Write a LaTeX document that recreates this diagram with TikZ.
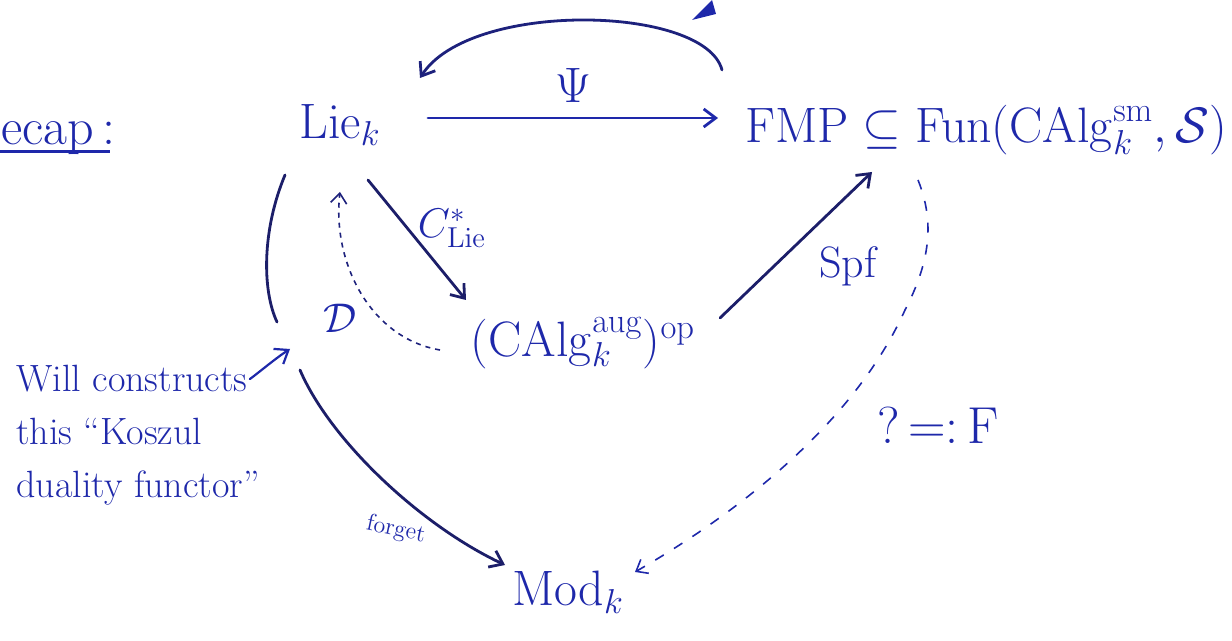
\documentclass[tikz,border=0pt]{standalone}
\usetikzlibrary{arrows.meta}
\definecolor{ink}{RGB}{30,40,170}
\definecolor{navy}{RGB}{28,30,105}
\tikzset{
  lbl/.style={text=ink, inner sep=1pt},
  bigl/.style={lbl, font=\fontsize{26}{30}\selectfont},
  fmpl/.style={lbl, font=\fontsize{25}{29}\selectfont},
  midl/.style={lbl, font=\fontsize{22}{26}\selectfont},
  smalll/.style={lbl, font=\fontsize{19}{23}\selectfont},
  tinyl/.style={lbl, font=\fontsize{12}{14}\selectfont},
  arr/.style={-{Straight Barb[length=6pt,width=9pt]}, line width=1.4pt, line cap=round},
  plain/.style={line width=1.4pt, line cap=round},
  dotarr/.style={-{Straight Barb[length=5pt,width=8pt]}, line width=0.8pt, dash pattern=on 2.5pt off 2.5pt},
}
\begin{document}
\begin{tikzpicture}[x=0.5pt, y=-0.5pt]
\useasboundingbox (0,0) rectangle (1232,641);
% title
\node[bigl, anchor=base west, inner sep=0pt] (recap) at (1,145) {ecap\,:};
\coordinate (ulA) at (0,152);
\coordinate (ulB) at (110,152);
\draw[ink, line width=1.5pt] (ulA) -- (ulB);
% main nodes
\node[bigl] (lie) at (340,125) {$\mathrm{Lie}_k$};
\node[fmpl] (fmp) at (986,130) {$\mathrm{FMP}\subseteq\mathrm{Fun}(\mathrm{CAlg}_k^{\mathrm{sm}},\mathcal{S})$};
\node[bigl] (calg) at (583,343) {$(\mathrm{CAlg}_k^{\mathrm{aug}})^{\mathrm{op}}$};
\node[bigl] (mod) at (568,592) {$\mathrm{Mod}_k$};
% Psi arrow
\coordinate (psiS) at (428,118);
\coordinate (psiT) at (718,118);
\draw[arr, ink] (psiS) -- node[bigl, above=6pt] (psi) {$\Psi$} (psiT);
% upper return arrow
\coordinate (upS) at (722,70);
\coordinate (upT) at (420,78);
\draw[arr, navy!70!ink] (upS) .. controls (705,5) and (470,0) .. (upT);
\fill[ink] (692,20) -- (712,0) -- (716,14) -- cycle;
% C*_Lie
\coordinate (cS) at (368,180);
\coordinate (cT) at (466,300);
\draw[arr, navy] (cS) -- (cT);
\node[midl] (clie) at (452,228) {$C^*_{\mathrm{Lie}}$};
% Spf
\coordinate (sS) at (720,318);
\coordinate (sT) at (872,172);
\draw[arr, navy] (sS) -- (sT);
\node[midl] (spf) at (848,266) {Spf};
% D dotted
\coordinate (dS) at (440,350);
\coordinate (dT) at (340,192);
\draw[dotarr, navy!70!ink] (dS) .. controls (370,338) and (332,262) .. (dT);
\node[midl] (dlab) at (340,318) {$\mathcal{D}$};
% left arc and forget
\coordinate (aS) at (285,175);
\coordinate (aT) at (277,322);
\draw[plain, navy] (aS) .. controls (262,230) and (262,290) .. (aT);
\coordinate (fS) at (300,370);
\coordinate (fT) at (505,565);
\draw[arr, navy] (fS) .. controls (330,440) and (420,525) .. (fT);
\node[tinyl, rotate=-12] (forget) at (396,530) {forget};
% note
\node[smalll, anchor=base west] (n1) at (14,392) {Will constructs};
\node[smalll, anchor=base west] (n2) at (14,445) {this ``Koszul};
\node[smalll, anchor=base west] (n3) at (14,498) {duality functor''};
\coordinate (nT) at (290,349);
\draw[arr, ink, line width=1.1pt] (n1.east) .. controls (262,370) and (276,358) .. (nT);
% F dashed
\coordinate (FS) at (918,180);
\coordinate (FM) at (905,310);
\coordinate (FT) at (635,572);
\draw[dotarr, ink, dash pattern=on 5pt off 6pt] (FS) .. controls (935,222) and (930,262) .. (FM) .. controls (860,410) and (760,500) .. (FT);
\node[bigl] (flab) at (938,425) {?\,=:\,F};
\end{tikzpicture}
\end{document}
